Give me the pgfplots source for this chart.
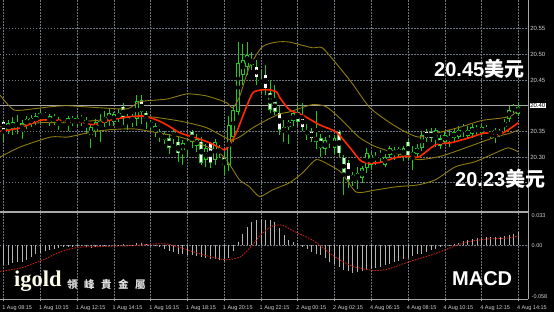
\documentclass[border=0pt]{standalone}
\usepackage{pgfplots}
\pgfplotsset{compat=1.18}
\usepackage{pgfplotstable}
\usepackage{fontspec}
\setmainfont{Liberation Sans}
\newfontfamily\cjk{Noto Sans CJK SC}
\newfontfamily\cjktc{Noto Sans CJK TC}
\newfontfamily\logofont{Liberation Serif}
\definecolor{cgreen}{HTML}{22C822}
\definecolor{band}{HTML}{8E7C12}
\definecolor{ma}{HTML}{FF2A00}
\definecolor{gridc}{HTML}{6E7682}
\definecolor{lbl}{HTML}{D2D2D2}
\definecolor{hist}{HTML}{B4B4B4}
\definecolor{sig}{HTML}{C81E14}
\definecolor{sep}{HTML}{A8A8A8}

\pgfplotstableread{
X O H L C
1 20.353 20.372 20.345 20.366
2 20.355 20.378 20.343 20.369
4 20.350 20.372 20.335 20.366
5 20.362 20.380 20.355 20.375
6 20.364 20.382 20.358 20.377
7 20.368 20.386 20.362 20.380
8 20.376 20.392 20.366 20.386
10 20.366 20.384 20.360 20.380
12 20.362 20.378 20.352 20.372
14 20.364 20.380 20.350 20.376
15 20.368 20.380 20.360 20.376
16 20.366 20.380 20.358 20.376
18 20.364 20.378 20.345 20.372
19 20.338 20.362 20.318 20.358
20 20.350 20.374 20.340 20.368
21 20.360 20.384 20.330 20.370
22 20.366 20.390 20.358 20.378
23 20.370 20.394 20.360 20.386
24 20.368 20.388 20.360 20.384
25 20.376 20.394 20.368 20.386
27 20.366 20.384 20.352 20.378
29 20.374 20.421 20.360 20.410
32 20.360 20.372 20.352 20.369
33 20.349 20.366 20.340 20.360
35 20.334 20.350 20.326 20.345
37 20.340 20.354 20.326 20.349
39 20.313 20.334 20.285 20.328
42 20.322 20.345 20.310 20.335
44 20.295 20.326 20.280 20.318
46 20.294 20.336 20.285 20.330
49 20.285 20.380 20.273 20.363
50 20.340 20.400 20.330 20.392
51 20.388 20.524 20.382 20.483
52 20.460 20.520 20.440 20.490
53 20.476 20.524 20.460 20.499
56 20.434 20.470 20.424 20.441
62 20.358 20.372 20.325 20.369
63 20.370 20.392 20.360 20.385
66 20.343 20.365 20.333 20.352
68 20.330 20.390 20.315 20.340
70 20.316 20.340 20.305 20.333
72 20.318 20.343 20.306 20.337
77 20.256 20.280 20.238 20.270
78 20.260 20.283 20.250 20.279
79 20.279 20.318 20.270 20.308
80 20.285 20.310 20.275 20.305
83 20.285 20.306 20.280 20.300
84 20.304 20.322 20.298 20.318
85 20.304 20.320 20.295 20.314
86 20.306 20.320 20.300 20.316
87 20.300 20.322 20.292 20.318
89 20.300 20.322 20.275 20.310
90 20.306 20.325 20.300 20.318
91 20.318 20.350 20.312 20.343
94 20.337 20.356 20.320 20.353
96 20.330 20.349 20.325 20.343
97 20.333 20.352 20.320 20.341
98 20.337 20.356 20.330 20.349
99 20.340 20.360 20.335 20.353
101 20.342 20.360 20.335 20.352
102 20.345 20.365 20.338 20.359
104 20.347 20.365 20.340 20.359
105 20.350 20.363 20.345 20.357
107 20.345 20.356 20.327 20.352
108 20.344 20.355 20.340 20.349
109 20.359 20.375 20.350 20.369
110 20.374 20.399 20.369 20.392
112 20.384 20.405 20.380 20.398
}\bull

\pgfplotstableread{
X O H L C
0 20.369 20.372 20.328 20.353
3 20.368 20.383 20.345 20.360
9 20.384 20.388 20.370 20.380
11 20.378 20.384 20.362 20.372
13 20.378 20.381 20.366 20.372
17 20.378 20.381 20.360 20.371
26 20.398 20.406 20.362 20.378
28 20.378 20.384 20.358 20.369
30 20.411 20.421 20.365 20.388
31 20.386 20.390 20.355 20.370
34 20.349 20.354 20.330 20.340
36 20.337 20.345 20.306 20.318
38 20.330 20.339 20.291 20.308
40 20.330 20.337 20.300 20.322
41 20.349 20.353 20.318 20.330
43 20.330 20.339 20.285 20.289
45 20.328 20.330 20.279 20.289
47 20.318 20.324 20.298 20.308
48 20.299 20.310 20.266 20.285
54 20.489 20.505 20.470 20.480
55 20.476 20.490 20.440 20.456
57 20.460 20.480 20.420 20.434
58 20.425 20.450 20.385 20.392
59 20.412 20.440 20.382 20.388
60 20.386 20.400 20.344 20.353
61 20.358 20.372 20.330 20.349
64 20.388 20.405 20.360 20.369
65 20.378 20.405 20.350 20.358
67 20.349 20.356 20.330 20.337
69 20.337 20.345 20.300 20.318
71 20.337 20.343 20.318 20.330
73 20.349 20.352 20.300 20.308
74 20.299 20.305 20.227 20.265
75 20.289 20.295 20.240 20.256
76 20.265 20.270 20.244 20.256
81 20.302 20.310 20.285 20.295
82 20.308 20.314 20.290 20.300
88 20.330 20.336 20.295 20.304
92 20.349 20.354 20.330 20.337
93 20.349 20.356 20.330 20.337
95 20.337 20.343 20.316 20.322
100 20.359 20.365 20.340 20.351
103 20.357 20.363 20.342 20.350
106 20.347 20.350 20.338 20.343
111 20.398 20.404 20.385 20.392
}\bear

\pgfplotstableread{
X V
0 -0.022
1 -0.022
2 -0.020
3 -0.019
4 -0.018
5 -0.016
6 -0.013
7 -0.010
8 -0.008
9 -0.006
10 -0.005
11 -0.004
12 -0.003
13 -0.002
14 -0.002
15 -0.002
16 -0.001
17 -0.001
18 -0.002
19 -0.003
20 -0.002
21 -0.001
22 0.0005
23 0.001
24 0.001
25 0.001
26 0.002
27 0.001
28 0.001
29 0.003
30 0.003
31 0.002
32 0.001
33 0.0005
34 -0.002
35 -0.004
36 -0.006
37 -0.007
38 -0.009
39 -0.010
40 -0.011
41 -0.011
42 -0.012
43 -0.013
44 -0.014
45 -0.015
46 -0.015
47 -0.016
48 -0.017
49 -0.014
50 -0.006
51 0.004
52 0.013
53 0.021
54 0.026
55 0.028
56 0.029
57 0.029
58 0.028
59 0.026
60 0.020
61 0.012
62 0.006
63 0.004
64 0.003
65 -0.002
66 -0.004
67 -0.007
68 -0.009
69 -0.011
70 -0.014
71 -0.018
72 -0.021
73 -0.024
74 -0.027
75 -0.029
76 -0.031
77 -0.030
78 -0.029
79 -0.027
80 -0.026
81 -0.025
82 -0.024
83 -0.022
84 -0.021
85 -0.019
86 -0.017
87 -0.015
88 -0.014
89 -0.012
90 -0.010
91 -0.009
92 -0.007
93 -0.005
94 -0.004
95 -0.002
96 -0.001
97 0.001
98 0.002
99 0.003
100 0.005
101 0.006
102 0.007
103 0.008
104 0.008
105 0.009
106 0.009
107 0.010
108 0.010
109 0.011
110 0.012
111 0.013
112 0.015
}\macd

\pgfplotsset{
  candlewick/.style={only marks, mark=none, forget plot,
    error bars/.cd, y dir=both, y explicit, error mark=none,
    error bar style={draw=cgreen, line width=1pt}},
  candlebody/.style 2 args={only marks, mark=none, forget plot,
    error bars/.cd, y dir=both, y explicit, error mark=none,
    error bar style={draw=#1, line width=#2}},
}

\begin{document}
\begin{tikzpicture}[x=1pt,y=1pt]
\fill[black] (0,0) rectangle (554,312);

% ---------------- main price panel ----------------
\begin{axis}[
  at={(0pt,100pt)}, anchor=south west,
  scale only axis, width=528pt, height=212pt,
  xmin=-0.8, xmax=114.1, ymin=20.193, ymax=20.606,
  axis line style={draw=none}, tick style={draw=none},
  xtick={0,8,...,112}, xticklabels={},
  ytick={20.25,20.30,20.35,20.45,20.50,20.55},
  yticklabels={,20.30,20.35,20.45,20.50,20.55},
  yticklabel pos=right,
  yticklabel style={anchor=west, inner sep=0.6pt, xshift=1.5pt, text=lbl, font=\fontsize{6}{6}\selectfont},
  extra y ticks={20.40}, extra y tick labels={20.40},
  extra y tick style={major grid style={solid, draw=sep, line width=0.8pt},
     yticklabel style={fill=white, text=black, inner sep=0.6pt}},
  grid=major,
  major grid style={draw=gridc, dash pattern=on 1.5pt off 1.5pt, line width=0.6pt},
  clip=true,
]
% wicks
\addplot[candlewick] table[x=X, y expr={(\thisrow{H}+\thisrow{L})/2}, y error expr={(\thisrow{H}-\thisrow{L})/2}]{\bull};
\addplot[candlewick] table[x=X, y expr={(\thisrow{H}+\thisrow{L})/2}, y error expr={(\thisrow{H}-\thisrow{L})/2}]{\bear};
% bodies
\addplot[candlebody={cgreen}{3.9pt}] table[x=X, y expr={(\thisrow{O}+\thisrow{C})/2}, y error expr={abs(\thisrow{C}-\thisrow{O})/2}]{\bull};
\addplot[candlebody={black}{1.9pt}] table[x=X, y expr={(\thisrow{O}+\thisrow{C})/2}, y error expr={max(abs(\thisrow{C}-\thisrow{O})/2-0.0018,0)}]{\bull};
\addplot[candlebody={cgreen}{3.6pt}] table[x=X, y expr={(\thisrow{O}+\thisrow{C})/2}, y error expr={abs(\thisrow{C}-\thisrow{O})/2}]{\bear};
\addplot[candlebody={white}{2.4pt}] table[x=X, y expr={(\thisrow{O}+\thisrow{C})/2}, y error expr={max(abs(\thisrow{C}-\thisrow{O})/2-0.0010,0)}]{\bear};

% Bollinger upper
\addplot[band, line width=0.9pt, smooth, tension=0.4] coordinates {
(-0.8,20.421) (2.2,20.392) (6.5,20.394) (10.2,20.398) (13.9,20.400) (21,20.396)
(26.9,20.394) (29.7,20.408) (35.5,20.413) (39.9,20.423) (44.2,20.419) (48.5,20.406)
(49.8,20.396) (51.3,20.417) (53.5,20.476) (56.3,20.515) (59.4,20.524) (62.2,20.524)
(67.1,20.513) (69.3,20.513) (72.3,20.483) (75.8,20.444) (79.5,20.398) (83.2,20.372)
(86.6,20.353) (90.3,20.339) (95.3,20.349) (99.6,20.359) (103.9,20.371) (108.3,20.376)
(110.4,20.380) (112,20.392)};
% Bollinger middle
\addplot[band, line width=0.9pt, smooth, tension=0.4] coordinates {
(-0.8,20.359) (3.7,20.363) (8.1,20.367) (13.9,20.367) (21,20.372) (28.2,20.378)
(32.5,20.378) (39,20.369) (44.2,20.357) (49.2,20.334) (51.3,20.339) (54.2,20.357)
(57.2,20.372) (60,20.384) (62.2,20.388) (67.1,20.402) (70.2,20.398) (73.6,20.372)
(77.3,20.339) (81,20.320) (86.6,20.304) (90.3,20.295) (95.3,20.302) (101.1,20.320)
(107,20.339) (110.4,20.347) (112,20.353)};
% Bollinger lower
\addplot[band, line width=0.9pt, smooth, tension=0.4] coordinates {
(-0.8,20.300) (3.7,20.320) (10.2,20.339) (13.9,20.339) (18.2,20.347) (22.6,20.353)
(28.2,20.355) (32.5,20.349) (38.4,20.339) (43.3,20.324) (47,20.308) (49.2,20.285)
(51.3,20.256) (53.5,20.242) (55.7,20.223) (58.5,20.236) (62.2,20.250) (65,20.269)
(68,20.295) (70.8,20.285) (73.6,20.269) (76.7,20.232) (81,20.236) (85.3,20.242)
(90.3,20.246) (94,20.256) (98.3,20.281) (102.6,20.291) (107,20.308) (109.8,20.318)
(112,20.310)};
% moving average
\addplot[ma, line width=1.6pt, smooth, tension=0.4] coordinates {
(-0.8,20.350) (3.7,20.357) (8.1,20.372) (13.9,20.371) (16.7,20.369) (19.5,20.363)
(23.2,20.372) (26.9,20.378) (30.3,20.380) (33.4,20.372) (36.2,20.359) (38.4,20.347)
(42,20.337) (44.8,20.328) (47,20.318) (48.1,20.314) (49.2,20.324) (50.7,20.349)
(52.4,20.388) (54.2,20.425) (56.3,20.431) (57.8,20.431) (59.4,20.427) (60,20.417)
(62.2,20.392) (65,20.382) (68.7,20.363) (72.3,20.349) (75.2,20.320) (78,20.291)
(81.6,20.289) (85.3,20.299) (88.1,20.302) (90.3,20.300) (94,20.324) (97.4,20.328)
(101.1,20.337) (104.8,20.347) (107.6,20.343) (109.8,20.353) (112,20.367)};
\end{axis}

% ---------------- MACD panel ----------------
\begin{axis}[
  at={(0pt,13pt)}, anchor=south west,
  scale only axis, width=528pt, height=87pt,
  xmin=-0.8, xmax=114.1, ymin=-0.0599, ymax=0.0375,
  axis line style={draw=none},
  xtick={0,8,...,112},
  xticklabels={1 Aug 08:15,1 Aug 10:15,1 Aug 12:15,1 Aug 14:15,1 Aug 16:15,1 Aug 18:15,1 Aug 20:15,1 Aug 22:15,2 Aug 00:15,2 Aug 02:15,4 Aug 06:15,4 Aug 08:15,4 Aug 10:15,4 Aug 12:15,4 Aug 14:15},
  xticklabel style={anchor=base west, inner sep=0pt, yshift=-8.2pt, xshift=-1.5pt, text=lbl, font=\fontsize{5.5}{6}\selectfont},
  xtick pos=bottom, tick align=outside, major tick length=2.5pt,
  xtick style={draw=sep, line width=0.6pt},
  ytick={0}, yticklabels={}, ytick style={draw=none},
  grid=major,
  major grid style={draw=gridc, dash pattern=on 1.5pt off 1.5pt, line width=0.6pt},
]
\addplot[ycomb, draw=hist, line width=0.9pt, mark=none] table[x=X, y=V]{\macd};
\addplot[sig, line width=0.9pt, dash pattern=on 1.6pt off 1.2pt, smooth, tension=0.4] coordinates {
(-0.8,-0.029) (3.9,-0.025) (8.6,-0.016) (12.4,-0.007) (16.3,-0.002) (22.3,-0.001)
(28.5,0.000) (33.8,0.002) (36.2,0.001) (39.2,-0.0036) (43.8,-0.011) (48.4,-0.016)
(51.5,-0.0127) (53.7,-0.002) (56.1,0.0127) (58.4,0.0217) (60.6,0.0228) (63,0.0163)
(66.8,0.0072) (68.4,0.0018) (72.1,-0.0127) (76,-0.0235) (80.6,-0.028) (83.6,-0.0264)
(88.3,-0.018) (92.9,-0.0109) (96.7,-0.0036) (100.5,0.0036) (105.1,0.0072) (109.7,0.0083)
(112,0.0109)};
\end{axis}

% frame lines
\draw[sep, line width=1.8pt] (0,100) -- (528,100);
\draw[sep, line width=0.8pt] (528,12.6) -- (528,312);
\draw[sep, line width=0.8pt] (0,12.6) -- (528,12.6);

% MACD scale labels
\node[anchor=west, inner sep=0pt, text=lbl, font=\fontsize{5.5}{6}\selectfont] at (531.5,96) {0.033};
\node[anchor=west, inner sep=0pt, text=lbl, font=\fontsize{5.5}{6}\selectfont] at (531.5,66.5) {0.00};
\node[anchor=west, inner sep=0pt, text=lbl, font=\fontsize{5.5}{6}\selectfont] at (531.5,15.5) {-0.058};

% annotations
\node[anchor=base west, inner sep=0pt, text=white, font=\fontsize{20}{20}\selectfont] at (434,235.3) {\bfseries 20.45\cjk 美元};
\node[anchor=base west, inner sep=0pt, text=white, font=\fontsize{20}{20}\selectfont] at (455,125.3) {\bfseries 20.23\cjk 美元};
\node[anchor=base west, inner sep=0pt, text=white, font=\fontsize{20}{20}\selectfont] at (452,26) {\bfseries MACD};
\node[anchor=base west, inner sep=0pt, text=white!92!yellow, font=\fontsize{22.5}{22.5}\selectfont] at (14,25) {\logofont\bfseries igold};
\node[anchor=base west, inner sep=0pt, text=white!88!black, font=\fontsize{10.5}{10.5}\selectfont] at (67,23.5) {\cjktc\bfseries 領\hspace{6.5pt}峰\hspace{6.5pt}貴\hspace{6.5pt}金\hspace{6.5pt}屬};

\pgfresetboundingbox
\useasboundingbox (0,0) rectangle (554,312);
\end{tikzpicture}
\end{document}
